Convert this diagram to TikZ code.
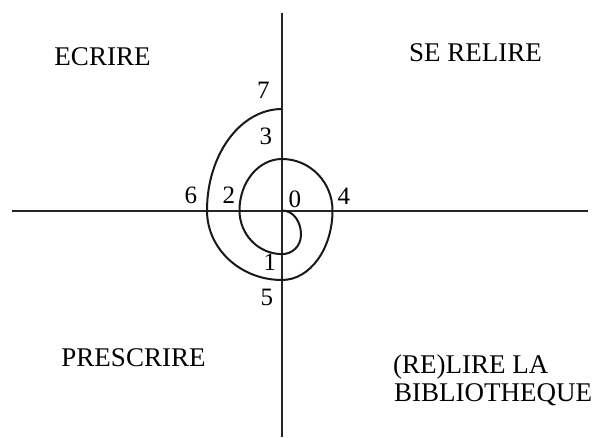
\documentclass[tikz,border=0pt]{standalone}
\usepackage{fontspec}
\setmainfont{Liberation Serif}
\usepackage{tikz}
\tikzstyle{axis} = [line width=2pt, black!85]
\tikzstyle{spiral} = [line width=2pt, black!90]
\tikzstyle{quadrant} = [inner sep=0pt, anchor=base, font=\fontsize{27}{28}\selectfont]
\tikzstyle{stage} = [inner sep=0pt, font=\fontsize{25}{26}\selectfont]

\begin{document}
\begin{tikzpicture}[x=1pt, y=1pt]
  \useasboundingbox (-282,-226.5) rectangle (318,210.5);
  \coordinate (top) at (0,198);
  \coordinate (bottom) at (0,-226.5);
  \coordinate (left) at (-270,0);
  \coordinate (right) at (306,0);

  \draw [axis] (left) -- (right);
  \draw [axis] (bottom) -- (top);

  \node (ecrire) [quadrant] at (-179.5,145.5) {ECRIRE};
  \node (relire) [quadrant] at (193.5,149.5) {SE RELIRE};
  \node (prescrire) [quadrant] at (-148.5,-155.5) {PRESCRIRE};
  \node (lirela) [quadrant, anchor=base west] at (111,-162.5) {(RE)LIRE LA};
  \node (biblio) [quadrant, anchor=base west] at (112,-190.5) {BIBLIOTHEQUE};

  \draw [spiral] (0,0) .. controls (12,0) and (19,-12) .. (19,-24)
    .. controls (19,-36) and (10,-43.6) .. (0,-43.6)
    arc [start angle=270, end angle=180, x radius=42.5, y radius=43.6]
    arc [start angle=180, end angle=90, x radius=42.5, y radius=51.5]
    arc [start angle=90, end angle=0, x radius=50.5, y radius=51.5]
    arc [start angle=0, end angle=-90, x radius=50.5, y radius=69.5]
    arc [start angle=270, end angle=180, x radius=75, y radius=69.5]
    arc [start angle=180, end angle=90, x radius=75, y radius=101.5];

  \node (s0) [stage] at (13,11.5) {0};
  \node (s1) [stage] at (-12,-51.5) {1};
  \node (s2) [stage] at (-53,15.5) {2};
  \node (s3) [stage] at (-16,74.5) {3};
  \node (s4) [stage] at (62,14) {4};
  \node (s5) [stage] at (-15,-86.5) {5};
  \node (s6) [stage] at (-91,15) {6};
  \node (s7) [stage] at (-18.7,120.5) {7};
\end{tikzpicture}
\end{document}
